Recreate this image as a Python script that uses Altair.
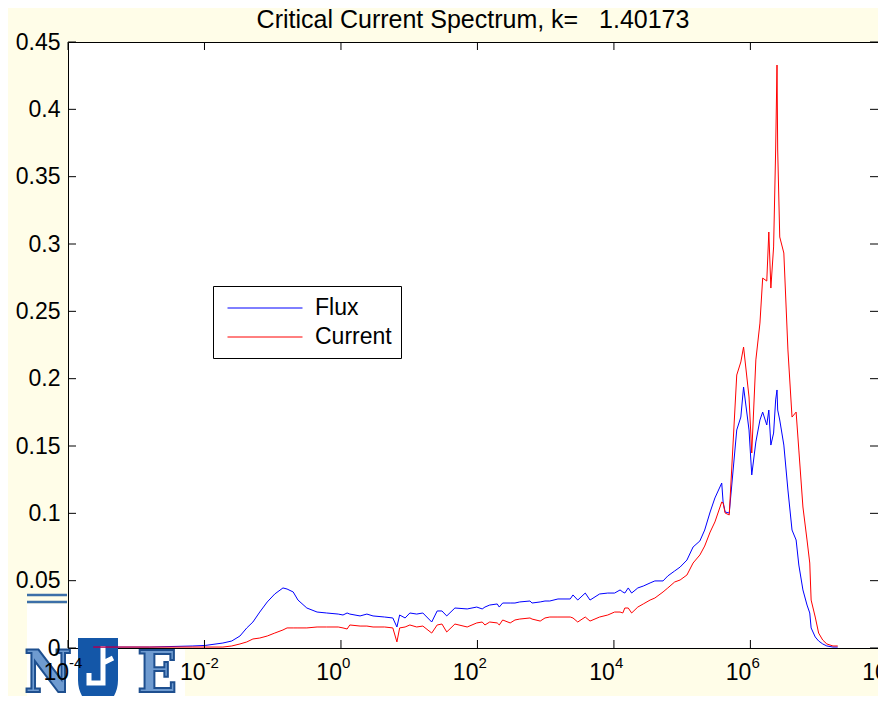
import altair as alt
import pandas as pd

# ---------------- data ----------------
log_energy = [-3.63, -2.80, -2.17, -1.99, -1.73, -1.60, -1.48, -1.38, -1.29, -1.19,
              -1.08, -0.97, -0.85, -0.79, -0.70, -0.63, -0.50, -0.35, -0.21, -0.04,
              0.03, 0.09, 0.13, 0.28, 0.38, 0.47, 0.64, 0.76, 0.82, 0.86,
              0.94, 1.01, 1.11, 1.20, 1.33, 1.41, 1.48, 1.55, 1.67, 1.85,
              1.99, 2.07, 2.11, 2.18, 2.29, 2.32, 2.37, 2.48, 2.55, 2.62,
              2.77, 2.80, 2.92, 2.99, 3.06, 3.18, 3.36, 3.40, 3.47, 3.58,
              3.65, 3.79, 3.91, 4.01, 4.09, 4.13, 4.16, 4.21, 4.26, 4.35,
              4.43, 4.53, 4.60, 4.72, 4.79, 4.89, 4.97, 5.07, 5.16, 5.26,
              5.33, 5.41, 5.48, 5.58, 5.60, 5.63, 5.69, 5.80, 5.86, 5.90,
              5.98, 6.02, 6.08, 6.14, 6.18, 6.24, 6.27, 6.30, 6.34, 6.37,
              6.39, 6.40, 6.43, 6.49, 6.55, 6.61, 6.67, 6.71, 6.77, 6.83,
              6.87, 6.89, 6.95, 7.00, 7.06, 7.12, 7.21, 7.28]

flux = [0.0007, 0.0007, 0.0015, 0.0019, 0.0037, 0.0052, 0.0089, 0.0149, 0.0193, 0.0267,
        0.0342, 0.0401, 0.0446, 0.0438, 0.0416, 0.0356, 0.0297, 0.0267, 0.0260, 0.0252,
        0.0245, 0.0260, 0.0252, 0.0238, 0.0252, 0.0238, 0.0230, 0.0223, 0.0156, 0.0245,
        0.0223, 0.0260, 0.0252, 0.0260, 0.0193, 0.0275, 0.0275, 0.0238, 0.0297, 0.0290,
        0.0304, 0.0290, 0.0304, 0.0319, 0.0327, 0.0304, 0.0334, 0.0334, 0.0334, 0.0342,
        0.0349, 0.0334, 0.0342, 0.0349, 0.0349, 0.0364, 0.0364, 0.0394, 0.0356, 0.0408,
        0.0356, 0.0401, 0.0408, 0.0408, 0.0431, 0.0416, 0.0408, 0.0446, 0.0408, 0.0446,
        0.0460, 0.0483, 0.0498, 0.0498, 0.0535, 0.0572, 0.0601, 0.0653, 0.0750, 0.0795,
        0.0876, 0.1010, 0.1114, 0.1225, 0.1084, 0.1010, 0.1002, 0.1619, 0.1715, 0.1938,
        0.1619, 0.1285, 0.1530, 0.1693, 0.1752, 0.1656, 0.1767, 0.1507, 0.1596, 0.1842,
        0.1916, 0.1767, 0.1693, 0.1507, 0.1173, 0.0876, 0.0802, 0.0616, 0.0431, 0.0319,
        0.0260, 0.0149, 0.0082, 0.0052, 0.0030, 0.0015, 0.0007, 0.0007]

current = [0.0007, 0.0007, 0.0007, 0.0007, 0.0007, 0.0015, 0.0030, 0.0045, 0.0067, 0.0074,
           0.0089, 0.0111, 0.0134, 0.0149, 0.0149, 0.0149, 0.0149, 0.0156, 0.0156, 0.0156,
           0.0149, 0.0141, 0.0171, 0.0163, 0.0163, 0.0156, 0.0156, 0.0149, 0.0045, 0.0149,
           0.0156, 0.0171, 0.0156, 0.0163, 0.0111, 0.0171, 0.0178, 0.0119, 0.0178, 0.0156,
           0.0186, 0.0193, 0.0171, 0.0193, 0.0186, 0.0171, 0.0208, 0.0186, 0.0208, 0.0215,
           0.0223, 0.0215, 0.0200, 0.0223, 0.0230, 0.0230, 0.0230, 0.0223, 0.0193, 0.0230,
           0.0200, 0.0230, 0.0245, 0.0267, 0.0267, 0.0260, 0.0297, 0.0297, 0.0260, 0.0304,
           0.0327, 0.0356, 0.0371, 0.0416, 0.0446, 0.0490, 0.0505, 0.0542, 0.0631, 0.0691,
           0.0757, 0.0861, 0.0936, 0.1084, 0.1077, 0.1002, 0.0988, 0.2027, 0.2124, 0.2235,
           0.1864, 0.1448, 0.2139, 0.2413, 0.2747, 0.2725, 0.3089, 0.2673, 0.2978, 0.3698,
           0.4329, 0.3698, 0.3052, 0.2933, 0.2213, 0.1715, 0.1752, 0.1470, 0.1047, 0.0802,
           0.0631, 0.0356, 0.0230, 0.0111, 0.0059, 0.0030, 0.0015, 0.0015]

series_names = ["Flux", "Current"]
series_colors = ["#0000ff", "#ff0000"]
x_tick_exponents = [-4, -2, 0, 2, 4, 6, 8]
y_tick_values = [0, 0.05, 0.1, 0.15, 0.2, 0.25, 0.3, 0.35, 0.4, 0.45]
x_domain_exponents = [-4, 7.87]   # visible part of the axis (right edge is cut off)
title_text = "Critical Current Spectrum, k=\u00a0\u00a0\u00a01.40173"
logo_letters = ["N", "E"]

# ---------------- layout / style ----------------
FONT = "Liberation Sans"
W, H = 810, 606
BG = "#FFFDE8"

n = len(log_energy)
energy = [10.0 ** e for e in log_energy]
df = pd.DataFrame({
    "energy": energy + energy,
    "value": flux + current,
    "series": ["Flux"] * n + ["Current"] * n,
})

x_scale = alt.Scale(type="log", domain=[10.0 ** e for e in x_domain_exponents], nice=False)
y_scale = alt.Scale(domain=[0, 0.45], nice=False, zero=False)
color_scale = alt.Scale(domain=series_names, range=series_colors)

legend = alt.Legend(
    title=None, orient="none", legendX=145, legendY=244, direction="vertical",
    symbolType="M-3,0L3,0", symbolSize=625, symbolStrokeWidth=1,
    labelFontSize=23, labelFont=FONT, labelColor="black", labelLimit=400,
    strokeColor="black", fillColor="white", padding=9,
    symbolOffset=30, labelOffset=37, rowPadding=4,
)

y_axis = alt.Axis(values=y_tick_values, format="~g", ticks=False, tickSize=0,
                  domain=False, grid=False, labelFontSize=23, labelFont=FONT,
                  labelColor="black", labelPadding=8, title=None, zindex=1)


def series_line(name, axis):
    return alt.Chart(df).transform_filter(alt.datum.series == name).mark_line(
        strokeWidth=1, clip=True
    ).encode(
        x=alt.X("energy:Q", scale=x_scale, axis=None),
        y=alt.Y("value:Q", scale=y_scale, axis=axis),
        color=alt.Color("series:N", scale=color_scale, legend=legend),
    )


flux_line = series_line("Flux", y_axis)
current_line = series_line("Current", None)

# inward-pointing ticks on all four sides (MATLAB box)
xt = pd.DataFrame({"energy": [10.0 ** e for e in x_tick_exponents],
                   "base": ["10"] * len(x_tick_exponents),
                   "exp": [str(e) for e in x_tick_exponents]})
yt = pd.DataFrame({"v": y_tick_values})

tick_style = dict(size=8, thickness=1, color="black", opacity=1)
x_ticks_bottom = alt.Chart(xt).mark_tick(orient="vertical", **tick_style).encode(
    x=alt.X("energy:Q", scale=x_scale, axis=None), y=alt.value(H - 4))
x_ticks_top = alt.Chart(xt).mark_tick(orient="vertical", **tick_style).encode(
    x=alt.X("energy:Q", scale=x_scale, axis=None), y=alt.value(4))
y_ticks_left = alt.Chart(yt).mark_tick(orient="horizontal", **tick_style).encode(
    y=alt.Y("v:Q", scale=y_scale, axis=None), x=alt.value(4))
y_ticks_right = alt.Chart(yt).mark_tick(orient="horizontal", **tick_style).encode(
    y=alt.Y("v:Q", scale=y_scale, axis=None), x=alt.value(W - 4))

# x labels as 10 with superscript exponent
x_lab_base = alt.Chart(xt).mark_text(align="right", baseline="alphabetic", fontSize=23,
                                     font=FONT, color="black", dx=1).encode(
    x=alt.X("energy:Q", scale=x_scale, axis=None), y=alt.value(H + 32), text="base:N")
x_lab_exp = alt.Chart(xt).mark_text(align="left", baseline="alphabetic", fontSize=15,
                                    font=FONT, color="black", dx=1).encode(
    x=alt.X("energy:Q", scale=x_scale, axis=None), y=alt.value(H + 20), text="exp:N")

# logo in the lower-left corner
one = pd.DataFrame({"k": [0]})
logo_bg1 = alt.Chart(one).mark_rect(color="white").encode(
    x=alt.value(-41), x2=alt.value(-1), y=alt.value(H - 44), y2=alt.value(H + 70))
logo_bg2 = alt.Chart(one).mark_rect(color="white").encode(
    x=alt.value(-41), x2=alt.value(117), y=alt.value(H + 1), y2=alt.value(H + 70))
logo_line1 = alt.Chart(one).mark_rule(color="#3C6FA8", strokeWidth=2.5).encode(
    x=alt.value(-41), x2=alt.value(-1), y=alt.value(H - 53))
logo_line2 = alt.Chart(one).mark_rule(color="#3C6FA8", strokeWidth=2.5).encode(
    x=alt.value(-41), x2=alt.value(-1), y=alt.value(H - 46))
letters = pd.DataFrame({"t": logo_letters, "px": [-20, 89]})
logo_letters_mark = alt.Chart(letters).mark_text(
    font="DejaVu Serif Condensed", fontWeight="bold", fontSize=58, baseline="alphabetic",
    align="center", fill="#6F9BD0", stroke="#1E4F8F", strokeWidth=2
).encode(x=alt.X("px:Q", scale=None), y=alt.value(H + 44), text="t:N")
shield = alt.Chart(one).mark_point(
    shape="M-1,-1.7L1,-1.7L1,0.4C1,1.2 0.5,1.7 0,1.8C-0.5,1.7 -1,1.2 -1,0.4Z",
    size=1600, filled=True, color="#1457A8", opacity=1
).encode(x=alt.value(30), y=alt.value(H + 24))
shield_mark = alt.Chart(one).mark_point(
    shape="M0.25,-1.3L0.25,0.55L-0.45,0.55L-0.45,0.05M0.25,-0.45L0.75,-0.7",
    size=1600, filled=False, color="white", strokeWidth=5, opacity=1
).encode(x=alt.value(30), y=alt.value(H + 24))

chart = alt.layer(
    logo_bg1, logo_bg2, logo_line1, logo_line2, shield, shield_mark, logo_letters_mark,
    flux_line, current_line,
    x_ticks_bottom, x_ticks_top, y_ticks_left, y_ticks_right,
    x_lab_base, x_lab_exp,
).resolve_axis(y="independent").properties(
    width=W, height=H,
    title=alt.TitleParams(text=title_text, fontSize=25, font=FONT, fontWeight="normal",
                          color="black", anchor="middle", offset=3, dy=5),
    autosize=alt.AutoSizeParams(type="none"),
    padding={"left": 60, "top": 34, "right": 0, "bottom": 48},
    background=BG,
).configure_view(fill="white", stroke="black", strokeWidth=1)

chart.save("out.html", embed_options={"renderer": "svg", "actions": False})
